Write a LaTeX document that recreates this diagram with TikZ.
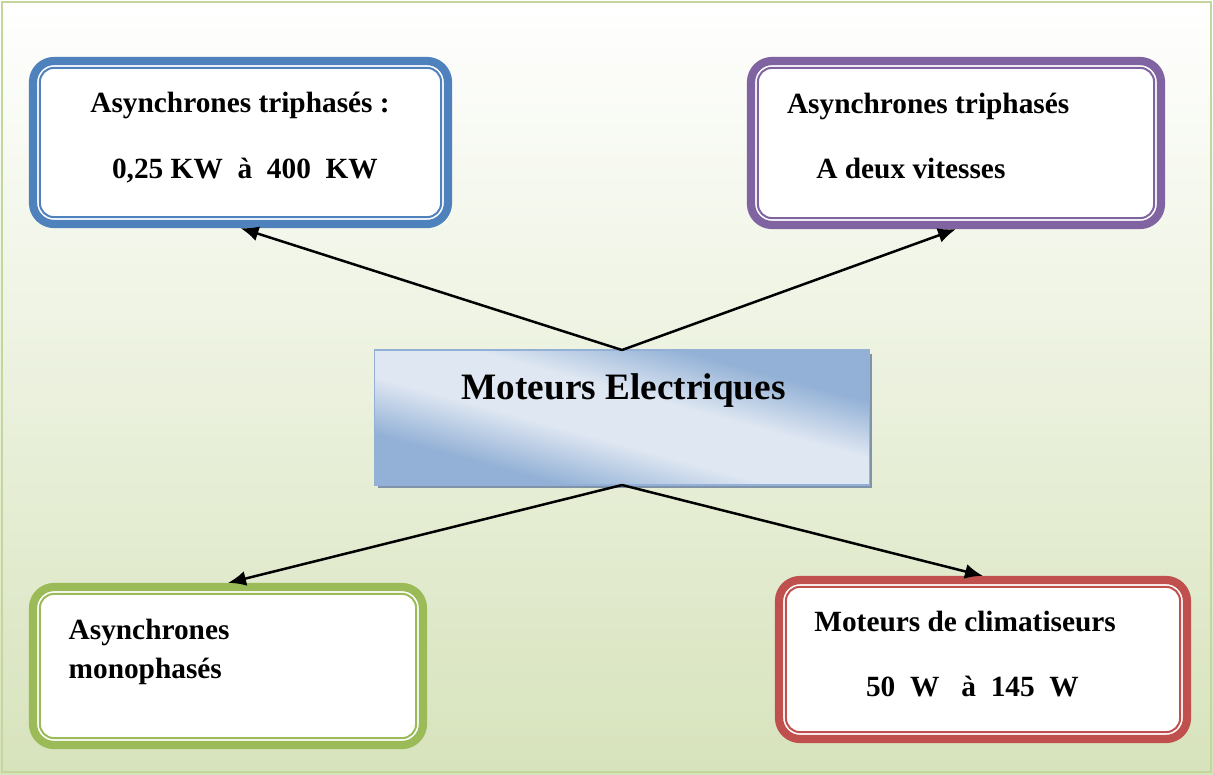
\documentclass[tikz,border=0pt]{standalone}
\usepackage{fontspec}
\setmainfont{Liberation Serif}
\usepackage{xcolor}
\usetikzlibrary{arrows.meta,positioning,calc,shadows}

\definecolor{bgbot}{HTML}{D7E3BC}
\definecolor{frameC}{HTML}{C3D69B}
\definecolor{blueC}{HTML}{4F81BD}
\definecolor{purpleC}{HTML}{8064A2}
\definecolor{greenC}{HTML}{9BBB59}
\definecolor{redC}{HTML}{C0504D}
\definecolor{lightB}{HTML}{DFE7F2}
\definecolor{darkB}{HTML}{93B1D6}
\definecolor{shadowB}{HTML}{8093A8}

\pgfdeclareverticalshading{motorshade}{100bp}{color(0bp)=(darkB); color(28bp)=(darkB);
  color(43bp)=(lightB); color(57bp)=(lightB); color(72bp)=(darkB); color(100bp)=(darkB)}

\begin{document}
\begin{tikzpicture}[x=0.02cm,y=-0.02cm,>={Latex[length=3.6mm,width=3mm]},
  every node/.style={font=\bfseries\fontsize{16.7}{20}\selectfont,inner sep=0pt},
  box/.style={draw=#1,line width=0.165cm,rounded corners=0.42cm,fill=white},
  txt/.style={anchor=base west},
  link/.style={->,line width=0.05cm}]
\useasboundingbox (0,0) rectangle (1213,774);
\shade[top color=white,bottom color=bgbot] (0,0) rectangle (1213,774);
\draw[frameC,line width=0.05cm] (2,2) rectangle (1211,772);

% the four families
\node[box=blueC,minimum width=8.3cm,minimum height=3.26cm] (triph) at (240.5,142.5) {};
\node[box=purpleC,minimum width=8.2cm,minimum height=3.28cm] (vit) at (956,143) {};
\node[box=greenC,minimum width=7.8cm,minimum height=3.16cm] (mono) at (228,666) {};
\node[box=redC,minimum width=8.16cm,minimum height=3.18cm] (clim) at (983,659.5) {};
\foreach \n/\c in {triph/blueC,vit/purpleC,mono/greenC,clim/redC}
  \draw[\c,line width=0.04cm,rounded corners=0.28cm] ([shift={(11,11)}]\n.north west) rectangle ([shift={(-11,-11)}]\n.south east);

% centre box
\node[draw=darkB,line width=0.03cm,minimum width=9.9cm,minimum height=2.7cm,fill=lightB,outer sep=0pt,
  drop shadow={shadow xshift=0.06cm,shadow yshift=-0.07cm,fill=shadowB,opacity=1}] (motors) at (622,417.5) {};
\begin{scope}[transform canvas={shift={(motors.center)},xscale=4.95,yscale=1.35}]
  \shade[x=1cm,y=1cm,shading=motorshade,shading angle=-45] (-1,-1) rectangle (1,1);
\end{scope}
\draw[darkB,line width=0.03cm] (motors.north west) rectangle (motors.south east);
\node[txt,font=\bfseries\fontsize{21.2}{25}\selectfont] (title) at (461.4,399) {Moteurs Electriques};

\node[txt] (tri1) at (90,112.7) {Asynchrones triphasés :};
\node[txt] (tri2) at (111.7,178.3) {0,25 KW\ \ à\ \ 400\ \ KW};
\node[txt] (vit1) at (786.7,113.3) {Asynchrones triphasés};
\node[txt] (vit2) at (816,178.3) {A deux vitesses};
\node[txt] (mono1) at (68.3,639.3) {Asynchrones};
\node[txt] (mono2) at (68.3,678.3) {monophasés};
\node[txt] (clim1) at (814,631.7) {Moteurs de climatiseurs};
\node[txt] (clim2) at (865.7,696.7) {50\ \ W\ \ \ à\ \ 145\ \ W};

\draw[link] (motors.north) -- (triph.south);
\draw[link] (motors.north) -- (vit.south);
\draw[link] (motors.south) -- (mono.north);
\draw[link] (motors.south) -- (clim.north);
\end{tikzpicture}
\end{document}
